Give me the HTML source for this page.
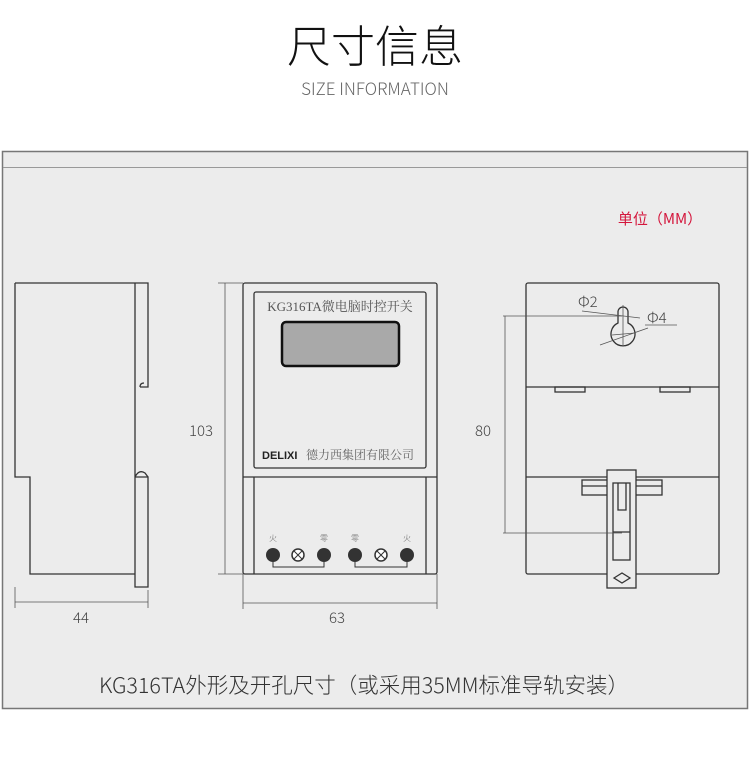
<!DOCTYPE html>
<html><head><meta charset="utf-8"><style>
html,body{margin:0;padding:0;background:#fff;width:750px;height:763px;overflow:hidden}
svg{display:block}
text{font-family:"Noto Sans CJK SC","Liberation Sans",sans-serif;font-weight:300}
</style></head><body>
<svg width="750" height="763" viewBox="0 0 750 763" xmlns="http://www.w3.org/2000/svg">
<text x="375" y="62" text-anchor="middle" font-size="44" fill="#111">尺寸信息</text>
<text x="375" y="95" text-anchor="middle" font-size="17" fill="#666">SIZE INFORMATION</text>
<rect x="2.5" y="151.5" width="745" height="557" fill="#ececec" stroke="#777" stroke-width="1.5"/>
<line x1="3" y1="167.5" x2="747" y2="167.5" stroke="#999" stroke-width="1"/>
<text x="660" y="224" text-anchor="middle" font-size="15" fill="#d4163c" style="font-weight:400">单位（MM）</text>
<g fill="none" stroke="#333" stroke-width="1.3">
<path d="M15,283 H148 V387 H140 M15,283 V477 H30 V574 H135 V283 M135,477 H148 V574 M135,574 V587 H148 V574 M140,387 q0,-4 4,-4 M135,477 q4,-8 10,-4 l3,4"/>
<rect x="243" y="283" width="194" height="291" rx="2"/>
<rect x="254" y="292" width="172" height="176" rx="2"/>
<line x1="243" y1="477" x2="437" y2="477"/>
<line x1="254" y1="477" x2="254" y2="574"/>
<line x1="426" y1="477" x2="426" y2="574"/>
<rect x="282" y="322" width="117" height="44" rx="4" fill="#a9a9a9" stroke="#111" stroke-width="2.5"/>
<rect x="526" y="283" width="193" height="291" rx="2"/>
<line x1="526" y1="387" x2="719" y2="387"/>
<line x1="526" y1="477" x2="719" y2="477"/>
<rect x="555" y="387" width="30" height="5"/>
<rect x="660" y="387" width="30" height="5"/>
<path d="M618,323 V312 a5,5 0 0 1 10,0 V323 a12,12 0 1 1 -10,0 z"/>
<rect x="582" y="480" width="80" height="15" fill="#ececec"/>
<line x1="582" y1="486" x2="662" y2="486"/>
<rect x="607" y="470" width="29" height="118" fill="#ececec"/>
<rect x="613" y="483" width="17" height="77"/>
<path d="M618,483 V510 H626 V483 M613,532 H630"/>
<path d="M614,578 l8,-5 l8,5 l-8,5 z"/>
</g>
<g stroke="#555" stroke-width="0.8" fill="none">
<line x1="15" y1="587" x2="15" y2="608"/><line x1="148" y1="590" x2="148" y2="608"/>
<line x1="15" y1="602" x2="148" y2="602"/>
<line x1="243" y1="574" x2="243" y2="609"/><line x1="437" y1="574" x2="437" y2="609"/>
<line x1="243" y1="603" x2="437" y2="603"/>
<line x1="218" y1="283" x2="243" y2="283"/><line x1="218" y1="574" x2="243" y2="574"/>
<line x1="225" y1="283" x2="225" y2="574"/>
<line x1="503" y1="316" x2="622" y2="316"/><line x1="503" y1="533" x2="622" y2="533"/>
<line x1="505" y1="316" x2="505" y2="533"/>
<line x1="582" y1="311" x2="640" y2="318"/><line x1="645" y1="325" x2="677" y2="325"/>
<line x1="600" y1="345" x2="648" y2="328"/>
<line x1="623" y1="305" x2="623" y2="345"/><line x1="612" y1="335" x2="635" y2="333"/>
</g>
<text x="81" y="623" text-anchor="middle" font-size="15" fill="#444">44</text>
<text x="337" y="623" text-anchor="middle" font-size="15" fill="#444">63</text>
<text x="201" y="436" text-anchor="middle" font-size="15" fill="#444">103</text>
<text x="483" y="436" text-anchor="middle" font-size="15" fill="#444">80</text>
<text x="578" y="307" font-size="15" fill="#444">Φ2</text>
<text x="647" y="323" font-size="15" fill="#444">Φ4</text>
<text x="340" y="311" text-anchor="middle" font-size="13" fill="#555" style='font-family:"Liberation Serif","Noto Serif CJK SC",serif;font-weight:400'>KG316TA微电脑时控开关</text>
<text x="262" y="459" font-size="11" fill="#222" style='font-family:"Liberation Sans",sans-serif;font-weight:bold'>DELIXI</text>
<text x="306" y="459" font-size="12" fill="#666" style='font-family:"Noto Serif CJK SC",serif;font-weight:400'>德力西集团有限公司</text>
<g fill="#333">
<circle cx="273" cy="555" r="7"/><circle cx="324" cy="555" r="7"/><circle cx="355" cy="555" r="7"/><circle cx="407" cy="555" r="7"/>
</g>
<g fill="#fff" stroke="#333" stroke-width="1.5"><circle cx="298" cy="555" r="6"/><circle cx="381" cy="555" r="6"/></g>
<g stroke="#333" stroke-width="1"><path d="M294,551 l8,8 M302,551 l-8,8 M377,551 l8,8 M385,551 l-8,8"/></g>
<path d="M273,562 V567 H324 V562 M355,562 V567 H407 V562" fill="none" stroke="#333" stroke-width="1"/>
<g font-size="8" fill="#666" text-anchor="middle"><text x="273" y="541">火</text><text x="324" y="541">零</text><text x="355" y="541">零</text><text x="407" y="541">火</text></g>
<text x="364" y="693" text-anchor="middle" font-size="21.5" fill="#333">KG316TA外形及开孔尺寸（或采用35MM标准导轨安装）</text>
</svg>
</body></html>
